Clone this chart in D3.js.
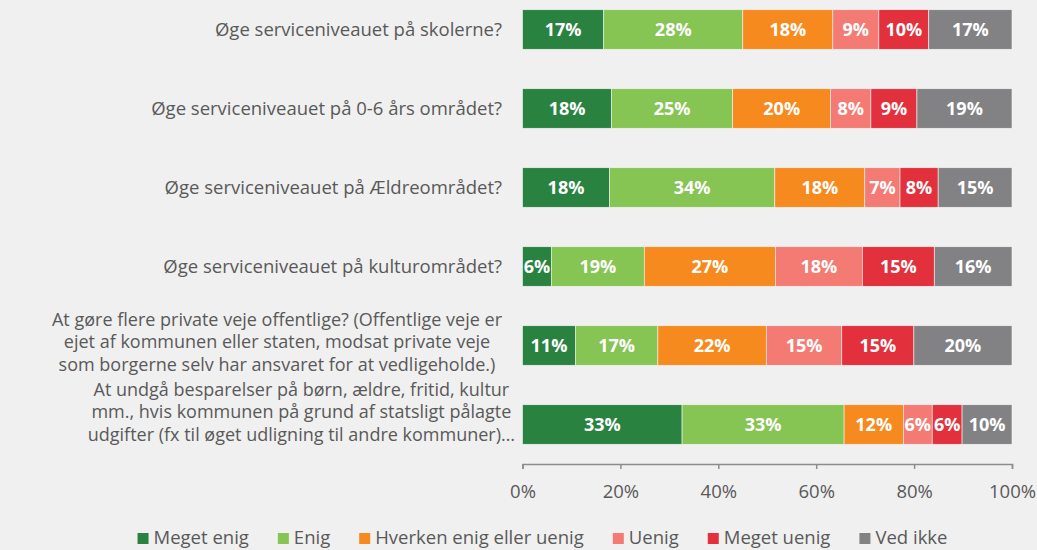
<!DOCTYPE html>
<html><head><meta charset="UTF-8">
<script src="https://d3js.org/d3.v7.min.js"></script>
<style>
  body { margin: 0; background: #f0f0f0; }
  svg { display: block; }
</style>
</head>
<body>
<svg id="chart" width="1037" height="550"></svg>
<script>
"use strict";
// questions (multi-line ones are split like in the original)
const categories = [
  ["Øge serviceniveauet på skolerne?"],
  ["Øge serviceniveauet på 0-6 års området?"],
  ["Øge serviceniveauet på Ældreområdet?"],
  ["Øge serviceniveauet på kulturområdet?"],
  ["At gøre flere private veje offentlige? (Offentlige veje er",
   "ejet af kommunen eller staten, modsat private veje",
   "som borgerne selv har ansvaret for at vedligeholde.)"],
  ["At undgå besparelser på børn, ældre, fritid, kultur",
   "mm., hvis kommunen på grund af statsligt pålagte",
   "udgifter (fx til øget udligning til andre kommuner)…"]
];
const seriesNames = ["Meget enig", "Enig", "Hverken enig eller uenig", "Uenig", "Meget uenig", "Ved ikke"];
const seriesColors = ["#298240", "#86c453", "#f68a1f", "#f47b73", "#e2303c", "#828285"];

// percent per question, one array per answer
const megetEnig  = [16.6, 18.2, 17.8, 5.9, 10.8, 32.6];
const enig       = [28.4, 24.7, 33.8, 19.0, 16.8, 33.1];
const hverken    = [18.4, 20.0, 18.4, 26.8, 22.1, 12.1];
const uenig      = [9.4, 8.2, 7.2, 17.8, 15.4, 5.9];
const megetUenig = [10.2, 9.4, 7.8, 14.7, 14.7, 6.1];
const vedIkke    = [17.0, 19.4, 15.1, 15.9, 20.0, 10.2];
const xTicks = [0, 0.2, 0.4, 0.6, 0.8, 1];

const seriesValues = [megetEnig, enig, hverken, uenig, megetUenig, vedIkke];
let rows = categories.map((c, i) => {
  let r = { idx: i };
  seriesNames.forEach((s, j) => r[s] = seriesValues[j][i]);
  return r;
});

let font = "'Open Sans', sans-serif",
    fontSize = "18.5px",
    textColor = "#595959";

let svg = d3.select("#chart");
let x = d3.scaleLinear().domain([0, 1]).range([522.5, 1012]);
let y = d3.scaleBand().domain(d3.range(categories.length)).range([-10, 464])
          .paddingInner(0.5).paddingOuter(0.25);

let stack = d3.stack().keys(seriesNames).offset(d3.stackOffsetExpand);
let layers = stack(rows);

let g = svg.append("g");
layers.forEach((layer, j) => {
  let lg = g.append("g").attr("fill", seriesColors[j]);
  lg.selectAll("rect").data(layer).enter().append("rect")
    .attr("x", d => x(d[0]))
    .attr("y", d => y(d.data.idx))
    .attr("width", d => x(d[1]) - x(d[0]))
    .attr("height", y.bandwidth())
    .attr("stroke", "#f4f4f4")
    .attr("stroke-width", 0.6);
  lg.selectAll("text").data(layer).enter().append("text")
    .attr("x", d => (x(d[0]) + x(d[1])) / 2)
    .attr("y", d => y(d.data.idx) + y.bandwidth() / 2)
    .attr("dy", "0.36em")
    .attr("text-anchor", "middle")
    .style("font-family", font)
    .style("font-weight", "bold")
    .style("font-size", "18px")
    .attr("fill", "#fff")
    .text(d => Math.round(d.data[seriesNames[j]]) + "%");
});

// category labels
let labelRight = 502, lineH = 22.4;
categories.forEach((lines, i) => {
  let cy = y(i) + y.bandwidth() / 2;
  if (lines.length === 1) {
    svg.append("text")
      .attr("x", labelRight).attr("y", cy).attr("dy", "0.35em")
      .attr("text-anchor", "end")
      .style("font-family", font).style("font-size", fontSize)
      .attr("fill", textColor).text(lines[0]);
  } else {
    // truncated label (ends with …) sits higher, like excel does
    let truncated = lines[lines.length - 1].endsWith("…");
    let top = cy - (lines.length - 1) * lineH / 2 - (truncated ? 12.5 : 3.5);
    let t = svg.append("text")
      .style("font-family", font).style("font-size", "18px")
      .attr("fill", textColor).attr("text-anchor", "middle");
    let spans = lines.map((l, k) => t.append("tspan")
      .attr("y", top + k * lineH).attr("dy", "0.35em").text(l));
    let maxW = d3.max(spans, s => s.node().getComputedTextLength());
    if (truncated) maxW -= 26;
    spans.forEach(s => s.attr("x", labelRight - maxW / 2));
  }
});

// x axis
let ax = svg.append("g").attr("transform", "translate(0,464)")
  .call(d3.axisBottom(x).tickValues(xTicks).tickFormat(d3.format(".0%")).tickSizeOuter(0).tickSize(5).tickPadding(16));
ax.select(".domain").attr("stroke", "#8c8c8c").attr("stroke-width", 1.5);
ax.selectAll(".tick line").attr("stroke", "#8c8c8c").attr("stroke-width", 1.5);
ax.selectAll(".tick text").style("font-family", font).style("font-size", fontSize).attr("fill", textColor);

// legend
let leg = svg.append("g");
let lx = 0;
seriesNames.forEach((s, j) => {
  let item = leg.append("g").attr("transform", `translate(${lx},0)`);
  item.append("rect").attr("x", 0).attr("y", -4.5).attr("width", 11).attr("height", 11)
    .attr("fill", seriesColors[j]);
  let t = item.append("text").attr("x", 16).attr("dy", "0.35em")
    .style("font-family", font).style("font-size", fontSize)
    .attr("fill", textColor).text(s);
  lx += 16 + t.node().getComputedTextLength() + 29;
});
let legW = lx - 29;
leg.attr("transform", `translate(${542.5 - legW / 2},537.5)`);
</script>
</body>
</html>
